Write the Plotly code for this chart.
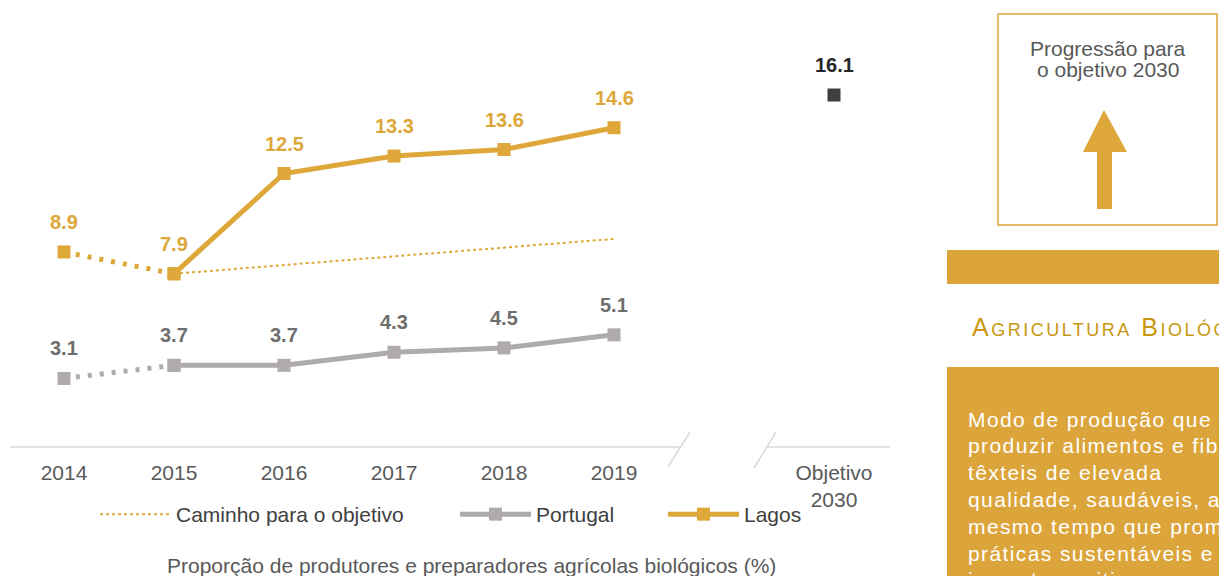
import plotly.graph_objects as go

# ---------------- data ----------------
years = ["2014", "2015", "2016", "2017", "2018", "2019"]
objective_label = "Objetivo<br>2030"
lagos = [8.9, 7.9, 12.5, 13.3, 13.6, 14.6]
portugal = [3.1, 3.7, 3.7, 4.3, 4.5, 5.1]
path_to_goal = [7.9, 8.3, 8.7, 9.1, 9.5]   # 2015..2019
objective_2030 = 16.1

series_names = ["Caminho para o objetivo", "Portugal", "Lagos"]
chart_title = "Proporção de produtores e preparadores agrícolas biológicos (%)"
box_title = ["Progressão para", "o objetivo 2030"]
section_heading = "Agricultura Biológica"
section_text = [
    "Modo de produção que visa",
    "produzir alimentos e fibras",
    "têxteis de elevada",
    "qualidade, saudáveis, ao",
    "mesmo tempo que promove",
    "práticas sustentáveis e de",
    "impacto positivo no",
]

# ---------------- style ----------------
GOLD = "#DDA73A"
GOLD_DARK = "#C9970E"
GREY = "#B0ABAB"
GREY_TXT = "#6E6E6E"
TXT = "#595959"
FONT = "Liberation Sans, Arial, sans-serif"

W, H = 1219, 576
ML, MR, MT, MB = 9, 330, 10, 130
PW, PH = W - ML - MR, H - MT - MB


def px(x):
    return (x - ML) / PW


def py(y):
    return (H - MB - y) / PH


xpos = list(range(len(years)))
xobj = len(years) + 1

fig = go.Figure()

# path to objective (dotted)
fig.add_trace(go.Scatter(
    x=xpos[1:], y=path_to_goal, mode="lines", name=series_names[0], legend="legend",
    line=dict(color=GOLD, width=2, dash="dot"), hoverinfo="skip"))

# Portugal
fig.add_trace(go.Scatter(
    x=xpos[:2], y=portugal[:2], mode="lines+markers", showlegend=False,
    line=dict(color=GREY, width=5, dash="4px,8px"),
    marker=dict(symbol="square", size=13, color=GREY)))
fig.add_trace(go.Scatter(
    x=xpos[1:], y=portugal[1:], mode="lines+markers", name=series_names[1], legend="legend2",
    line=dict(color=GREY, width=5),
    marker=dict(symbol="square", size=13, color=GREY)))

# Lagos
fig.add_trace(go.Scatter(
    x=xpos[:2], y=lagos[:2], mode="lines+markers", showlegend=False,
    line=dict(color=GOLD, width=5, dash="4px,8px"),
    marker=dict(symbol="square", size=13, color=GOLD)))
fig.add_trace(go.Scatter(
    x=xpos[1:], y=lagos[1:], mode="lines+markers", name=series_names[2], legend="legend3",
    line=dict(color=GOLD, width=5),
    marker=dict(symbol="square", size=13, color=GOLD)))

# objective 2030
fig.add_trace(go.Scatter(
    x=[xobj], y=[objective_2030], mode="markers", showlegend=False,
    marker=dict(symbol="square", size=13, color="#3F3F3F")))

annotations = []
for xi, v in zip(xpos, lagos):
    annotations.append(dict(x=xi, y=v, text=f"{v:.1f}", showarrow=False, yshift=30,
                            font=dict(family=FONT, size=20, color=GOLD, weight="bold")))
for xi, v in zip(xpos, portugal):
    annotations.append(dict(x=xi, y=v, text=f"{v:.1f}", showarrow=False, yshift=30,
                            font=dict(family=FONT, size=20, color=GREY_TXT, weight="bold")))
annotations.append(dict(x=xobj, y=objective_2030, text=f"{objective_2030:.1f}", showarrow=False,
                        yshift=30, font=dict(family=FONT, size=20, color="#262626", weight="bold")))

# chart title (bottom)
annotations.append(dict(xref="paper", yref="paper", x=px(471), y=py(565), text=chart_title,
                        showarrow=False, xanchor="center", yanchor="middle",
                        font=dict(family=FONT, size=21, color=TXT)))

# right panel texts
for i, t in enumerate(box_title):
    annotations.append(dict(xref="paper", yref="paper", x=px(1108), y=py(48 + 22 * i), text=t,
                            showarrow=False, xanchor="center", yanchor="middle",
                            font=dict(family=FONT, size=21, color=TXT)))
annotations.append(dict(xref="paper", yref="paper", x=px(970), y=py(327),
                        text=f'<span style="letter-spacing:2.5px">{section_heading}</span>',
                        showarrow=False, xanchor="left", yanchor="middle",
                        font=dict(family=FONT, size=25, color=GOLD_DARK, variant="small-caps")))
for i, t in enumerate(section_text):
    annotations.append(dict(xref="paper", yref="paper", x=px(966), y=py(419 + 26.8 * i),
                            text=f'<span style="letter-spacing:1.4px">{t}</span>',
                            showarrow=False, xanchor="left", yanchor="middle",
                            font=dict(family=FONT, size=21, color="white")))

shapes = []
AX = "#D9D9D9"
for (x0, y0, x1, y1) in [(10, 447, 681, 447), (668, 467, 690, 432),
                         (767, 447, 890, 447), (754, 468, 776, 432)]:
    shapes.append(dict(type="line", xref="paper", yref="paper",
                       x0=px(x0), y0=py(y0), x1=px(x1), y1=py(y1),
                       line=dict(color=AX, width=1.5)))
# progress box
shapes.append(dict(type="rect", xref="paper", yref="paper",
                   x0=px(998), y0=py(14), x1=px(1217), y1=py(225),
                   line=dict(color=GOLD, width=1.5), fillcolor="white"))
# arrow
pts = [(1104, 110), (1127, 152), (1112, 152), (1112, 209), (1097, 209), (1097, 152), (1083, 152)]
path = "M " + " L ".join(f"{px(a):.5f},{py(b):.5f}" for a, b in pts) + " Z"
shapes.append(dict(type="path", xref="paper", yref="paper", path=path,
                   fillcolor=GOLD, line=dict(width=0)))
# gold band and gold box
shapes.append(dict(type="rect", xref="paper", yref="paper",
                   x0=px(947), y0=py(250), x1=px(1240), y1=py(284),
                   fillcolor="#DCA53B", line=dict(width=0), layer="below"))
shapes.append(dict(type="rect", xref="paper", yref="paper",
                   x0=px(947), y0=py(367), x1=px(1240), y1=py(600),
                   fillcolor="#DCA53B", line=dict(width=0), layer="below"))

legend_common = dict(orientation="h", xanchor="left", y=py(494), yanchor="top",
                     font=dict(family=FONT, size=21, color="#404040"),
                     itemwidth=71, bgcolor="rgba(0,0,0,0)")

fig.update_layout(
    width=W, height=H,
    margin=dict(l=ML, r=MR, t=MT, b=MB),
    paper_bgcolor="white", plot_bgcolor="white",
    font=dict(family=FONT, size=21, color=TXT),
    xaxis=dict(range=[-0.5, 7.5], tickvals=xpos + [xobj], ticktext=years + [objective_label],
               showgrid=False, zeroline=False, showline=False, ticks="",
               ticklabelstandoff=12, tickfont=dict(family=FONT, size=21, color=TXT)),
    yaxis=dict(range=[0, 20], visible=False, showgrid=False, zeroline=False),
    showlegend=True,
    legend=dict(x=px(95), **legend_common),
    legend2=dict(x=px(455), **legend_common),
    legend3=dict(x=px(663), **legend_common),
    annotations=annotations,
    shapes=shapes,
)

fig.write_html("out.html", config={"displayModeBar": False},
               post_script="document.body.style.margin='0px';document.body.style.overflow='hidden';")
